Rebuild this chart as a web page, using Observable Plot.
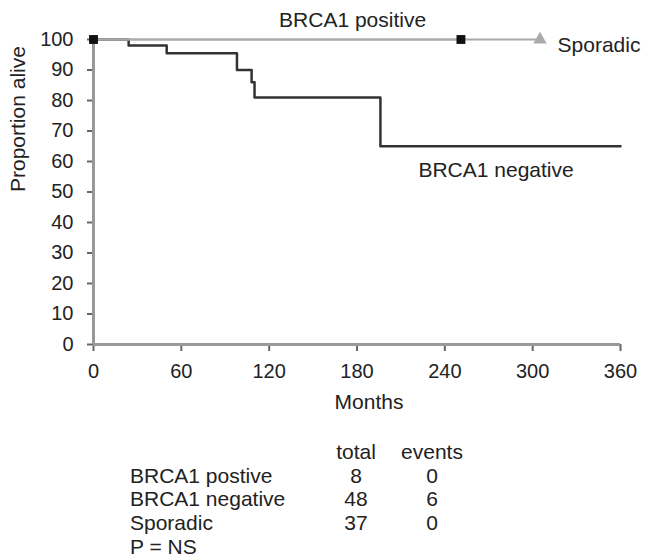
<!DOCTYPE html>
<html>
<head>
<meta charset="utf-8">
<script src="https://cdn.jsdelivr.net/npm/d3@7"></script>
<script src="https://cdn.jsdelivr.net/npm/@observablehq/plot@0.6"></script>
<style>
  html, body { margin: 0; padding: 0; background: #fff; }
  body { width: 646px; height: 557px; overflow: hidden; font-family: "Liberation Sans", Arial, Helvetica, sans-serif; color: #222; }
  #stats { border-collapse: collapse; margin-left: 130px; margin-top: 20px; font-size: 21px; }
  #stats td { padding: 0; line-height: 23.7px; white-space: nowrap; }
  #stats td.name { width: 200px; text-align: left; }
  #stats td.tot { width: 52px; text-align: center; }
  #stats td.ev { width: 100px; text-align: center; }
</style>
</head>
<body>
<div id="chart"></div>
<table id="stats"></table>
<script>
// Kaplan–Meier curves (months, % alive)
const negMonths = [0, 24, 50, 98, 108, 110, 196, 360];
const negSurvival = [100, 98, 95.5, 90, 86, 81, 65, 65];
const posMonths = [0, 251];
const posSurvival = [100, 100];
const sporMonths = [0, 305];
const sporSurvival = [100, 100];
// censor symbols
const posCensorMonths = [0, 251];
const posCensorSurvival = [100, 100];
const sporCensorMonths = [305];
const sporCensorSurvival = [100];
// axes
const xTicks = [0, 60, 120, 180, 240, 300, 360];
const yTicks = [0, 10, 20, 30, 40, 50, 60, 70, 80, 90, 100];
// summary table
const groups = ["BRCA1 postive", "BRCA1 negative", "Sporadic"];
const totals = [8, 48, 37];
const events = [0, 6, 0];
const pValue = "P = NS";

const neg = negMonths.map((m, i) => ({m, s: negSurvival[i]}));
const pos = posMonths.map((m, i) => ({m, s: posSurvival[i]}));
const spor = sporMonths.map((m, i) => ({m, s: sporSurvival[i]}));
const posC = posCensorMonths.map((m, i) => ({m, s: posCensorSurvival[i]}));
const sporC = sporCensorMonths.map((m, i) => ({m, s: sporCensorSurvival[i]}));

const font = '"Liberation Sans", Arial, Helvetica, sans-serif';

const chart = Plot.plot({
  width: 646,
  height: 420,
  marginLeft: 93,
  marginRight: 26,
  marginTop: 39,
  marginBottom: 76,
  style: {fontFamily: font, fontSize: "20px", color: "#222", background: "#fff"},
  x: {domain: [0, 360]},
  y: {domain: [0, 100]},
  marks: [
    Plot.axisX({ticks: xTicks, tickSize: 7, tickPadding: 12, stroke: "#666", strokeWidth: 2, label: null, fontSize: 20}),
    Plot.axisY({ticks: yTicks, tickSize: 6, tickPadding: 14, stroke: "#666", strokeWidth: 2, label: null, fontSize: 20}),
    Plot.ruleX([0], {stroke: "#999", strokeWidth: 3}),
    Plot.ruleY([0], {stroke: "#999", strokeWidth: 3}),
    Plot.line(neg, {x: "m", y: "s", curve: "step-after", stroke: "#333", strokeWidth: 2.5}),
    Plot.line(pos, {x: "m", y: "s", curve: "step-after", stroke: "#aaa", strokeWidth: 2}),
    Plot.line(spor, {x: "m", y: "s", curve: "step-after", stroke: "#aaa", strokeWidth: 2}),
    Plot.dot(posC, {x: "m", y: "s", symbol: "square", r: 5, fill: "#111", stroke: "none"}),
    Plot.dot(sporC, {x: "m", y: "s", symbol: "triangle", r: 5, fill: "#aaa", stroke: "none"}),
    Plot.text(["BRCA1 positive"], {x: 177, y: 100, dy: -19, fontSize: 21, fill: "#222"}),
    Plot.text(["Sporadic"], {x: 317, y: 98, textAnchor: "start", fontSize: 21, fill: "#222"}),
    Plot.text(["BRCA1 negative"], {x: 275, y: 57, fontSize: 21, fill: "#222"}),
    Plot.text(["Months"], {frameAnchor: "bottom", dx: 12, dy: 64, fontSize: 21, fill: "#222"}),
    Plot.text(["Proportion alive"], {frameAnchor: "left", dx: -75, rotate: -90, fontSize: 21, fill: "#222"})
  ]
});
document.getElementById("chart").appendChild(chart);

const table = d3.select("#stats");
const header = table.append("tr");
header.append("td").attr("class", "name").text("");
header.append("td").attr("class", "tot").text("total");
header.append("td").attr("class", "ev").text("events");
groups.forEach((g, i) => {
  const tr = table.append("tr");
  tr.append("td").attr("class", "name").text(g);
  tr.append("td").attr("class", "tot").text(totals[i]);
  tr.append("td").attr("class", "ev").text(events[i]);
});
const last = table.append("tr");
last.append("td").attr("class", "name").text(pValue);
last.append("td").attr("class", "tot");
last.append("td").attr("class", "ev");
</script>
</body>
</html>
